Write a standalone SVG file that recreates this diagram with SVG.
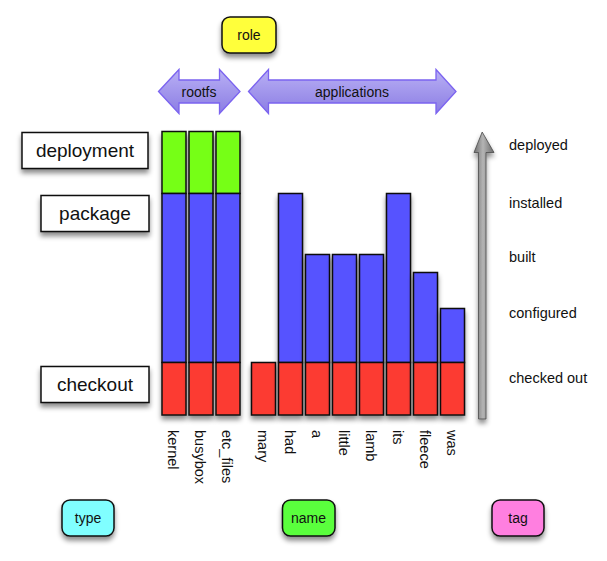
<svg xmlns="http://www.w3.org/2000/svg" width="607" height="561" viewBox="0 0 607 561">
<defs>
<filter id="sh" x="-30%" y="-30%" width="160%" height="170%">
<feDropShadow dx="0" dy="4" stdDeviation="2.5" flood-color="#000" flood-opacity="0.45"/>
</filter>
<linearGradient id="lav" x1="0" y1="0" x2="0" y2="1">
<stop offset="0" stop-color="#b9b0f5"/>
<stop offset="1" stop-color="#8b7de3"/>
</linearGradient>
<linearGradient id="gray" x1="0" y1="0" x2="1" y2="0">
<stop offset="0" stop-color="#6e6e6e"/>
<stop offset="0.45" stop-color="#b4b4b4"/>
<stop offset="1" stop-color="#6a6a6a"/>
</linearGradient>
</defs>
<style>
text{font-family:"Liberation Sans",Arial,sans-serif;fill:#111}
.box{fill:#fff;stroke:#111;stroke-width:1.5;filter:url(#sh)}
.tag{stroke:#111;stroke-width:1.5;filter:url(#sh)}
.lbl{font-size:19px;text-anchor:middle}
.sm{font-size:14px;text-anchor:middle}
.rt{font-size:14.5px}
.bl{font-size:14.5px;dominant-baseline:central}
.g{fill:#76ff18;stroke:#111;stroke-width:1.5}
.b{fill:#5652ff;stroke:#111;stroke-width:1.5}
.r{fill:#fc3a32;stroke:#111;stroke-width:1.5}
.col{filter:url(#sh)}
.dbl{fill:url(#lav);stroke:#7b63f0;stroke-width:1.3}
</style>

<g id="role"><rect class="tag" x="222" y="17" width="54" height="36" rx="8" fill="#ffff3a"/><text class="sm" x="249" y="40">role</text></g>

<g id="rootfs"><path class="dbl" d="M158.5,91.5 L179,69.5 L179,80 L219.5,80 L219.5,69.5 L240,91.5 L219.5,113.5 L219.5,103 L179,103 L179,113.5 Z"/><text class="sm" x="199" y="96.5">rootfs</text></g>
<g id="applications"><path class="dbl" d="M248.5,91.5 L268.5,69.5 L268.5,80 L436,80 L436,69.5 L456,91.5 L436,113.5 L436,103 L268.5,103 L268.5,113.5 Z"/><text class="sm" x="352" y="96.5">applications</text></g>

<g id="deployment"><rect class="box" x="22" y="132.5" width="126" height="36"/><text class="lbl" x="85" y="157">deployment</text></g>
<g id="package"><rect class="box" x="41" y="195.5" width="108" height="36"/><text class="lbl" x="95" y="220">package</text></g>
<g id="checkout"><rect class="box" x="41" y="366.5" width="108" height="36"/><text class="lbl" x="95" y="391">checkout</text></g>

<g id="kernel" class="col"><rect class="g" x="162" y="131.5" width="24" height="62"/><rect class="b" x="162" y="193.5" width="24" height="169"/><rect class="r" x="162" y="362.5" width="24" height="52.5"/></g>
<g id="busybox" class="col"><rect class="g" x="189" y="131.5" width="24" height="62"/><rect class="b" x="189" y="193.5" width="24" height="169"/><rect class="r" x="189" y="362.5" width="24" height="52.5"/></g>
<g id="etc_files" class="col"><rect class="g" x="216" y="131.5" width="24" height="62"/><rect class="b" x="216" y="193.5" width="24" height="169"/><rect class="r" x="216" y="362.5" width="24" height="52.5"/></g>
<g id="mary" class="col"><rect class="r" x="251.5" y="362.5" width="24" height="52.5"/></g>
<g id="had" class="col"><rect class="b" x="278.5" y="193.5" width="24" height="169"/><rect class="r" x="278.5" y="362.5" width="24" height="52.5"/></g>
<g id="a" class="col"><rect class="b" x="305.5" y="254.5" width="24" height="108"/><rect class="r" x="305.5" y="362.5" width="24" height="52.5"/></g>
<g id="little" class="col"><rect class="b" x="332.5" y="254.5" width="24" height="108"/><rect class="r" x="332.5" y="362.5" width="24" height="52.5"/></g>
<g id="lamb" class="col"><rect class="b" x="359.5" y="254.5" width="24" height="108"/><rect class="r" x="359.5" y="362.5" width="24" height="52.5"/></g>
<g id="its" class="col"><rect class="b" x="386.5" y="193.5" width="24" height="169"/><rect class="r" x="386.5" y="362.5" width="24" height="52.5"/></g>
<g id="fleece" class="col"><rect class="b" x="413.5" y="272.5" width="24" height="90"/><rect class="r" x="413.5" y="362.5" width="24" height="52.5"/></g>
<g id="was" class="col"><rect class="b" x="440.5" y="308.5" width="24" height="54"/><rect class="r" x="440.5" y="362.5" width="24" height="52.5"/></g>

<g id="names">
<text class="bl" transform="translate(173,430) rotate(90)">kernel</text>
<text class="bl" transform="translate(200,430) rotate(90)">busybox</text>
<text class="bl" transform="translate(227,430) rotate(90)">etc_files</text>
<text class="bl" transform="translate(262.5,430) rotate(90)">mary</text>
<text class="bl" transform="translate(289.5,430) rotate(90)">had</text>
<text class="bl" transform="translate(316.5,430) rotate(90)">a</text>
<text class="bl" transform="translate(343.5,430) rotate(90)">little</text>
<text class="bl" transform="translate(370.5,430) rotate(90)">lamb</text>
<text class="bl" transform="translate(397.5,430) rotate(90)">its</text>
<text class="bl" transform="translate(424.5,430) rotate(90)">fleece</text>
<text class="bl" transform="translate(451.5,430) rotate(90)">was</text>
</g>

<g id="progress"><path d="M478.5,419 L478.5,152.5 L474,152.5 L482.2,132 L494,152.5 L486,152.5 L486,419 Z" fill="url(#gray)" stroke="#4a4a4a" stroke-width="0.8" filter="url(#sh)"/></g>

<g id="levels">
<text class="rt" x="509" y="150">deployed</text>
<text class="rt" x="509" y="208">installed</text>
<text class="rt" x="509" y="262">built</text>
<text class="rt" x="509" y="318">configured</text>
<text class="rt" x="509" y="383">checked out</text>
</g>

<g id="type"><rect class="tag" x="62" y="500" width="52" height="36" rx="8" fill="#80ffff"/><text class="sm" x="88" y="523">type</text></g>
<g id="name"><rect class="tag" x="282.5" y="500" width="52.5" height="36" rx="8" fill="#5aff3c"/><text class="sm" x="308.5" y="523">name</text></g>
<g id="tagbox"><rect class="tag" x="492" y="500" width="52" height="36" rx="8" fill="#ff7fe0"/><text class="sm" x="518" y="523">tag</text></g>
</svg>
